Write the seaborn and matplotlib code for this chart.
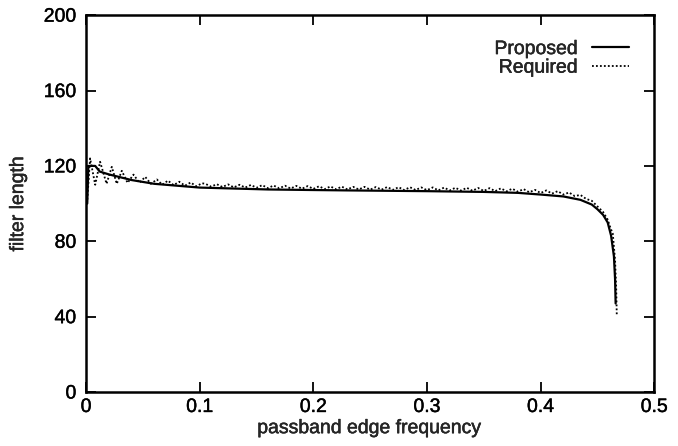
import numpy as np
import pandas as pd
import matplotlib
matplotlib.use("Agg")
import matplotlib.pyplot as plt
import matplotlib.patheffects as pe
import seaborn as sns

# proposed filter length (solid line)
prop_freq = [0.0010, 0.0020, 0.0080, 0.0120, 0.0200, 0.0300, 0.0400, 0.0500,
             0.0600, 0.0700, 0.0800, 0.1000, 0.1300, 0.1600, 0.2000, 0.2300,
             0.3000, 0.3500, 0.3800, 0.4000, 0.4200, 0.4350, 0.4450, 0.4500,
             0.4550, 0.4590, 0.4620, 0.4645, 0.4655, 0.4660]
prop_len = [100, 120, 120, 117, 115.5, 114, 112.5, 111.5,
            110.5, 110, 109.5, 108.5, 108, 107.5, 107.2, 107,
            106.6, 106.2, 105.7, 104.8, 103.8, 102, 99.5, 97,
            94, 90, 83, 72, 60, 47]

# required filter length (dotted line)
req_freq = [0.0008, 0.0035, 0.0080, 0.0123, 0.0180, 0.0226, 0.0270, 0.0314,
            0.0365, 0.0417, 0.0470, 0.0520, 0.0570, 0.0623, 0.0670, 0.0720,
            0.0770, 0.0820, 0.0870, 0.0920, 0.0970, 0.1020,
            0.105, 0.110, 0.115, 0.120, 0.125, 0.130, 0.135, 0.140, 0.145, 0.150,
            0.155, 0.160, 0.165, 0.170, 0.175, 0.180, 0.185, 0.190, 0.195, 0.200,
            0.205, 0.210, 0.215, 0.220, 0.225, 0.230, 0.235, 0.240, 0.245, 0.250,
            0.255, 0.260, 0.265, 0.270, 0.275, 0.280, 0.285, 0.290, 0.295, 0.300,
            0.305, 0.310, 0.315, 0.320, 0.325, 0.330, 0.335, 0.340, 0.345, 0.350,
            0.355, 0.360, 0.365, 0.370, 0.375, 0.380, 0.385, 0.390, 0.395, 0.400,
            0.405, 0.410, 0.415, 0.420, 0.425, 0.430, 0.435, 0.440, 0.445, 0.450,
            0.455, 0.459, 0.4615, 0.4635, 0.4655, 0.4665, 0.4670]
req_len = [100, 124, 110, 122.2, 110.5, 119.5, 110.5, 117.4,
           111, 115.4, 111, 114.2, 110.5, 112.8, 110, 112.2,
           109.8, 111.6, 109.5, 111.2, 109.2, 110.8,
           110.5, 109.0, 110.3, 108.8, 110.2, 108.6, 110.0, 108.5, 109.9, 108.4,
           109.8, 108.2, 109.6, 108.1, 109.5, 108.0, 109.4, 107.9, 109.3, 107.8,
           109.2, 107.7, 109.1, 107.6, 109.0, 107.5, 108.9, 107.5, 108.9, 107.4,
           108.8, 107.4, 108.8, 107.3, 108.7, 107.2, 108.7, 107.2, 108.6, 107.1,
           108.6, 107.0, 108.5, 107.0, 108.4, 106.9, 108.4, 106.8, 108.3, 106.7,
           108.2, 106.6, 108.1, 106.5, 107.9, 106.3, 107.7, 106.0, 107.3, 105.6,
           107.0, 105.3, 106.6, 104.8, 105.9, 104.0, 104.6, 102.5, 101.5, 98.5,
           95.5, 91.5, 87, 84, 70, 55, 41]

df_prop = pd.DataFrame({'freq': prop_freq, 'length': prop_len})
df_req = pd.DataFrame({'freq': req_freq, 'length': req_len})

sns.set_style('ticks')
plt.rcParams['font.family'] = ['Liberation Sans', 'DejaVu Sans']

fig, ax = plt.subplots(figsize=(6.78, 4.46), dpi=100)
fig.subplots_adjust(left=0.127, right=0.965, bottom=0.121, top=0.966)
fig.patch.set_facecolor('white')
ax.set_facecolor('white')

sns.lineplot(data=df_prop, x='freq', y='length', ax=ax, color='black',
             linewidth=1.6, label='Proposed', sort=False)
sns.lineplot(data=df_req, x='freq', y='length', ax=ax, color='black',
             linewidth=1.3, linestyle=(0, (1, 1.2)), label='Required', sort=False)

ax.set_xlim(0, 0.5)
ax.set_ylim(0, 200)
ax.set_xticks([0, 0.1, 0.2, 0.3, 0.4, 0.5])
ax.set_xticklabels(['0', '0.1', '0.2', '0.3', '0.4', '0.5'])
ax.set_yticks([0, 40, 80, 120, 160, 200])

ax.tick_params(direction='in', length=7, width=1.3, top=True, right=True,
               labelsize=14, colors='black')
ax.tick_params(axis='x', pad=5)
ax.tick_params(axis='y', pad=7)
for s in ax.spines.values():
    s.set_visible(True)
    s.set_linewidth(1.8)
    s.set_color('black')

ax.set_xlabel('passband edge frequency', fontsize=14, labelpad=3)
ax.set_ylabel('filter length', fontsize=14, labelpad=12)

leg = ax.legend(loc='upper right', frameon=False, markerfirst=False, fontsize=14,
                handlelength=1.9, handletextpad=0.7, labelspacing=0.05,
                borderaxespad=0.9)

# slightly heavier text, like the scanned print
heavy = [pe.withStroke(linewidth=0.3, foreground='black')]
texts = ax.get_xticklabels() + ax.get_yticklabels() + leg.get_texts()
texts += [ax.xaxis.label, ax.yaxis.label]
for t in texts:
    t.set_path_effects(heavy)

plt.savefig('out.png', dpi=100)
